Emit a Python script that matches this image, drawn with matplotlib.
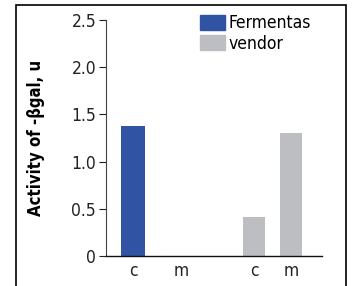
import matplotlib
matplotlib.use("Agg")
import matplotlib.pyplot as plt
from matplotlib.patches import Rectangle, Patch

# data
tick_labels = ["c", "m", "c", "m"]
x_pos = [0, 1.3, 3.27, 4.27]
fermentas = [1.38, 0.0]
vendor = [0.41, 1.30]

blue = "#3153a3"
grey = "#bdbec2"

plt.rcParams['font.family'] = ['DejaVu Sans']
plt.rcParams['font.stretch'] = 'condensed'

fig = plt.figure(figsize=(3.53, 2.86), dpi=100)
ax = fig.add_axes([0.300, 0.105, 0.612, 0.825])

ax.bar(x_pos[:2], fermentas, width=0.65, color=blue, label="Fermentas")
ax.bar(x_pos[2:], vendor, width=0.6, color=grey, label="vendor")

ax.set_xlim(-0.73, 5.1)
ax.set_ylim(0, 2.5)
ax.set_yticks([0, 0.5, 1.0, 1.5, 2.0, 2.5])
ax.set_yticklabels(["0", "0.5", "1.0", "1.5", "2.0", "2.5"])
ax.set_xticks(x_pos)
ax.set_xticklabels(tick_labels)
ax.tick_params(axis='y', direction='out', length=5, width=0.8, labelsize=12.5, colors='#222222', pad=2)
ax.tick_params(axis='x', length=0, labelsize=12.5, colors='#222222', pad=4)
for s in ['top', 'right']:
    ax.spines[s].set_visible(False)
ax.spines['left'].set_color('#444444')
ax.spines['bottom'].set_color('#111111')
ax.spines['left'].set_linewidth(0.8)
ax.spines['bottom'].set_linewidth(1.0)

ax.set_ylabel("Activity of -βgal, u", fontsize=12, fontweight='bold', labelpad=19)

ax.legend(handles=[Patch(color=blue, label="Fermentas"), Patch(color=grey, label="vendor")],
          loc='upper left', bbox_to_anchor=(0.435, 1.025), frameon=False, fontsize=12.5,
          handlelength=1.45, handleheight=0.95, handletextpad=0.2, labelspacing=0.15,
          borderaxespad=0, borderpad=0)

# outer frame around the panel
fig.patches.append(Rectangle((16 / 353, -0.1), 330 / 353, 1.1 - 5 / 286, transform=fig.transFigure,
                             fill=False, edgecolor='black', linewidth=1.2))

fig.savefig("out.png", dpi=100)
